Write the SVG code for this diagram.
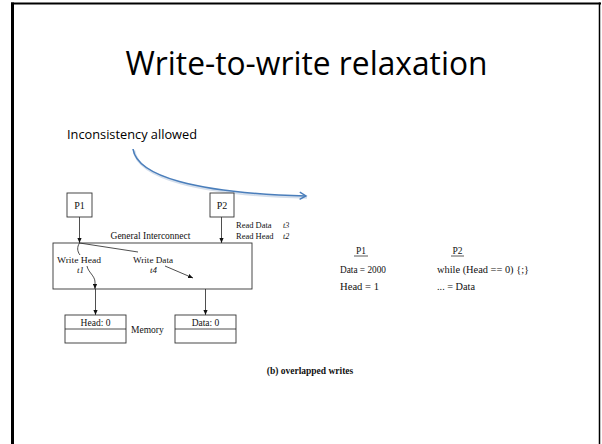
<svg xmlns="http://www.w3.org/2000/svg" width="602" height="444" viewBox="0 0 602 444">
<style>
.t{font-family:"Liberation Serif","Times New Roman",serif;fill:#111}
.s{font-size:9px}
.i{font-style:italic}
.box{fill:#fff;stroke:#333;stroke-width:0.9}
.ln{fill:none;stroke:#222;stroke-width:0.8}
.cal{font-family:"Open Sans","Noto Sans",sans-serif;fill:#000}
</style>
<defs>
<marker id="ah" viewBox="0 0 6 6" refX="6" refY="3" markerWidth="5" markerHeight="5" orient="auto" markerUnits="userSpaceOnUse">
<path d="M0,0.5 L6,3 L0,5.5 Z" fill="#111"/>
</marker>
<marker id="bh" viewBox="0 0 10 10" refX="8" refY="5" markerWidth="9" markerHeight="9" orient="auto" markerUnits="userSpaceOnUse">
<path d="M1,1 L8,5 L1,9" fill="none" stroke="#4a7ebb" stroke-width="1.6"/>
</marker>
</defs>
<rect width="602" height="444" fill="#fff"/>
<g id="frame">
<line x1="12.5" y1="2.5" x2="12.5" y2="444" stroke="#000" stroke-width="3"/>
<line x1="11" y1="3.5" x2="601" y2="3.5" stroke="#000" stroke-width="2"/>
<line x1="599.5" y1="2.5" x2="599.5" y2="444" stroke="#000" stroke-width="1.5"/>
</g>
<text class="cal" x="306.5" y="75" font-size="33" text-anchor="middle" textLength="362" lengthAdjust="spacingAndGlyphs">Write-to-write relaxation</text>
<text class="cal" x="67" y="139" font-size="12.5" textLength="130" lengthAdjust="spacingAndGlyphs">Inconsistency allowed</text>
<g id="connectors">
<path d="M133,149 C137,176 195,193 306,196" fill="none" stroke="#d5dfec" stroke-width="2.5" transform="translate(1,1.5)"/>
<path d="M133,149 C137,176 195,193 306,196" fill="none" stroke="#4a7ebb" stroke-width="1.6" marker-end="url(#bh)"/>
<line class="ln" x1="79.5" y1="217" x2="79.5" y2="243" marker-end="url(#ah)"/>
<line class="ln" x1="221.5" y1="217" x2="221.5" y2="243" marker-end="url(#ah)"/>
</g>
<g id="interconnect">
<rect class="box" x="53" y="243" width="199" height="46"/>
<text class="t" x="150.5" y="239" font-size="9.5" text-anchor="middle">General Interconnect</text>
<path class="ln" d="M79.5,243 L138,252"/>
<path class="ln" d="M79.5,243 C77,247 77,251 80,255"/>
<text class="t s" x="57" y="263" font-size="8.5" textLength="44" lengthAdjust="spacingAndGlyphs">Write Head</text>
<text class="t s i" x="77" y="273" font-size="8">t1</text>
<text class="t s" x="133" y="263" font-size="8.5" textLength="40" lengthAdjust="spacingAndGlyphs">Write Data</text>
<text class="t s i" x="150" y="273" font-size="8">t4</text>
<path class="ln" d="M87,266 C88,272 95,276 95,282 L95,289" marker-end="url(#ah)"/>
<path class="ln" d="M165,266 L193,278" marker-end="url(#ah)"/>
</g>
<g id="p1">
<rect class="box" x="67" y="193" width="25" height="24"/>
<text class="t" x="79.5" y="209" font-size="10" text-anchor="middle">P1</text>
</g>
<g id="p2">
<rect class="box" x="210" y="193" width="24" height="24"/>
<text class="t" x="222" y="209" font-size="10" text-anchor="middle">P2</text>
<text class="t" x="236" y="228" font-size="8.5">Read Data</text>
<text class="t i" x="283" y="228" font-size="8">t3</text>
<text class="t" x="236" y="239" font-size="8.5">Read Head</text>
<text class="t i" x="283" y="239" font-size="8">t2</text>
</g>
<g id="mem-lines">
<line class="ln" x1="95.5" y1="289" x2="95.5" y2="315" marker-end="url(#ah)"/>
<line class="ln" x1="205.5" y1="289" x2="205.5" y2="315" marker-end="url(#ah)"/>
</g>
<g id="head">
<rect class="box" x="65" y="315" width="61" height="28"/>
<line class="ln" x1="65" y1="329" x2="126" y2="329"/>
<text class="t" x="95.5" y="326" font-size="9.5" text-anchor="middle">Head: 0</text>
</g>
<text class="t" x="131" y="333" font-size="9.5">Memory</text>
<g id="data">
<rect class="box" x="175" y="315" width="61" height="28"/>
<line class="ln" x1="175" y1="329" x2="236" y2="329"/>
<text class="t" x="205.5" y="326" font-size="9.5" text-anchor="middle">Data: 0</text>
</g>
<g id="code">
<text class="t" x="361" y="254" font-size="9.5" text-anchor="middle">P1</text>
<line x1="354" y1="256" x2="368" y2="256" stroke="#111" stroke-width="0.7"/>
<text class="t" x="457.5" y="254" font-size="9.5" text-anchor="middle">P2</text>
<line x1="451" y1="256" x2="464" y2="256" stroke="#111" stroke-width="0.7"/>
<text class="t" x="340" y="273" font-size="9.5" textLength="46" lengthAdjust="spacingAndGlyphs">Data = 2000</text>
<text class="t" x="340" y="290" font-size="9.5" textLength="39" lengthAdjust="spacingAndGlyphs">Head = 1</text>
<text class="t" x="437" y="273" font-size="9.5" textLength="92" lengthAdjust="spacingAndGlyphs">while (Head == 0) {;}</text>
<text class="t" x="437" y="290" font-size="9.5" textLength="38" lengthAdjust="spacingAndGlyphs">... = Data</text>
</g>
<text class="t" x="310" y="374" font-size="9.5" font-weight="bold" text-anchor="middle">(b) overlapped writes</text>
</svg>
